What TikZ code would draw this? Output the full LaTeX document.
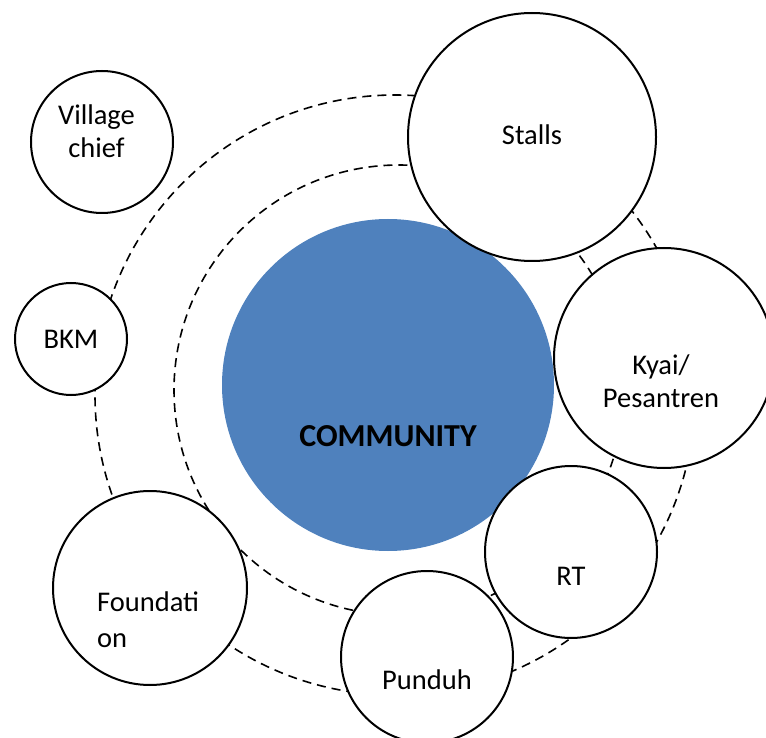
\documentclass[tikz,border=0pt]{standalone}
\usepackage{fontspec}
\setmainfont{Carlito}
\usepackage{tikz}
\usetikzlibrary{positioning}
\definecolor{communityblue}{RGB}{79,129,189}

\begin{document}
\begin{tikzpicture}[x=1pt, y=-1pt,
        actor/.style={draw, circle, line width=2pt, fill=white, inner sep=0pt},
        ring/.style={draw, circle, line width=1.6pt, dash pattern=on 9pt off 6pt,
                inner sep=0pt},
        core/.style={circle, fill=communityblue, inner sep=0pt, minimum size=332pt},
        tag/.style={font=\fontsize{28.5}{33}\selectfont, inner sep=0pt, align=center},
    ]
    \useasboundingbox (0,0) rectangle (766,738);

    % dashed rings round the community
    \node[ring, minimum size=600pt] (outer_ring) at (395,395) {};
    \node[ring, minimum size=450pt] (inner_ring) at (399,390) {};

    \node[core] (community) at (388,385) {};

    \node[actor, minimum size=142pt] (village_chief) at (102,142) {};
    \node[actor, minimum size=112pt] (bkm) at (71,339) {};
    \node[actor, minimum size=194pt] (foundation) at (150,588) {};
    \node[actor, minimum size=172pt] (punduh) at (427,657) {};
    \node[actor, minimum size=172pt] (rt) at (571,552) {};
    \node[actor, minimum size=220pt] (kyai) at (664,358) {};
    \node[actor, minimum size=248pt] (stalls) at (532,137) {};

    % texts
    \node[tag, font=\fontsize{32}{38}\selectfont\bfseries, anchor=base] (community_txt)
        at (388,446) {COMMUNITY};
    \node[tag] (village_chief_txt) at (96.5,131) {Village\\chief};
    \node[tag, anchor=base] (bkm_txt) at (71,348) {BKM};
    \node[tag, align=left, anchor=west, font=\fontsize{28.5}{36}\selectfont]
        (foundation_txt) at (97,620) {Foundati\\on};
    \node[tag, anchor=base] (punduh_txt) at (427,689) {Punduh};
    \node[tag, anchor=base] (rt_txt) at (571,585) {RT};
    \node[tag] (kyai_txt) at (661,381) {Kyai/\\Pesantren};
    \node[tag, anchor=base] (stalls_txt) at (532,145) {Stalls};
\end{tikzpicture}
\end{document}
